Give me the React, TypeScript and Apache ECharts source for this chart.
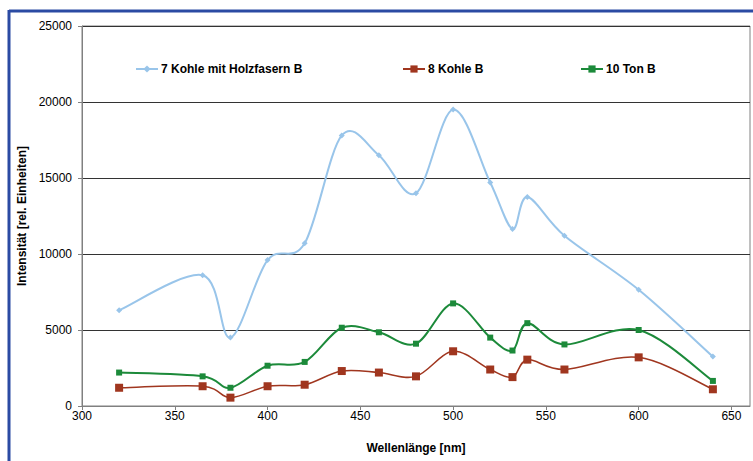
import React, { useEffect, useRef } from "react";
import * as echarts from "echarts";

const wavelengths = [320, 365, 380, 400, 420, 440, 460, 480, 500, 520, 532, 540, 560, 600, 640];
const kohleHolz = [6300, 8600, 4500, 9600, 10700, 17800, 16500, 14000, 19500, 14700, 11650, 13750, 11200, 7650, 3250];
const kohle = [1200, 1300, 550, 1300, 1400, 2300, 2200, 1950, 3600, 2400, 1900, 3050, 2400, 3200, 1100];
const ton = [2200, 1950, 1200, 2650, 2900, 5150, 4850, 4100, 6750, 4500, 3650, 5450, 4050, 5000, 1650];
const xTicks = [300, 350, 400, 450, 500, 550, 600, 650];
const seriesNames = ["7 Kohle mit Holzfasern B", "8 Kohle B", "10 Ton B"];

const FONT = "Liberation Sans, Arial, sans-serif";

export default function App() {
  const ref = useRef<HTMLDivElement>(null);
  useEffect(() => {
    if (!ref.current) return;
    const chart = echarts.init(ref.current, undefined, { renderer: "svg" });
    const pair = (ys: number[]) => wavelengths.map((x, i) => [x, ys[i]]);
    const n = wavelengths.length;

    const curve = (ys: number[], color: string, width: number, z: number) => ({
      type: "custom",
      name: "_curve" + z,
      silent: true,
      clip: true,
      z,
      data: pair(ys),
      renderItem: (params: any, api: any) => {
        const i = params.dataIndex;
        if (i >= n - 1) return null;
        const P = (k: number) => {
          const kk = Math.max(0, Math.min(n - 1, k));
          return api.coord([wavelengths[kk], ys[kk]]);
        };
        const p0 = P(i - 1), p1 = P(i), p2 = P(i + 1), p3 = P(i + 2);
        const t = 1 / 6;
        return {
          type: "bezierCurve",
          shape: {
            x1: p1[0], y1: p1[1], x2: p2[0], y2: p2[1],
            cpx1: p1[0] + (p2[0] - p0[0]) * t,
            cpy1: p1[1] + (p2[1] - p0[1]) * t,
            cpx2: p2[0] - (p3[0] - p1[0]) * t,
            cpy2: p2[1] - (p3[1] - p1[1]) * t,
          },
          style: { stroke: color, lineWidth: width, fill: null },
        };
      },
    });

    const markers = (name: string, ys: number[], color: string, width: number, symbol: string, size: number, z: number) => ({
      name,
      type: "line",
      data: pair(ys),
      symbol,
      symbolSize: size,
      lineStyle: { color, width, opacity: 0 },
      itemStyle: { color },
      z,
    });

    const legendBase = {
      orient: "horizontal" as const,
      top: 63,
      padding: 0,
      itemWidth: 22,
      itemHeight: 9,
      itemGap: 4,
      lineStyle: { opacity: 1 },
      textStyle: { fontFamily: FONT, fontSize: 12, fontWeight: "bold" as const, color: "#000", padding: [0, 0, 0, -2] },
    };
    chart.setOption({
      animation: false,
      backgroundColor: "#fff",
      textStyle: { fontFamily: FONT },
      grid: {
        left: 82,
        top: 26,
        width: 668,
        height: 380,
        show: true,
        borderColor: "#808080",
        borderWidth: 1,
        containLabel: false,
      },
      legend: [
        { ...legendBase, left: 135, data: [seriesNames[0]] },
        { ...legendBase, left: 402, data: [seriesNames[1]] },
        { ...legendBase, left: 580, data: [seriesNames[2]] },
      ],
      graphic: [
        { type: "line", shape: { x1: 9, y1: 11, x2: 753, y2: 11 }, style: { stroke: "#2B4BA3", lineWidth: 3 } },
        { type: "line", shape: { x1: 9, y1: 10, x2: 9, y2: 461 }, style: { stroke: "#2B4BA3", lineWidth: 3 } },
      ],
      xAxis: {
        type: "value",
        min: 300,
        max: 660,
        interval: 50,
        name: "Wellenlänge [nm]",
        nameLocation: "middle",
        nameGap: 36,
        nameTextStyle: { fontFamily: FONT, fontSize: 12, fontWeight: "bold", color: "#000" },
        axisLine: { show: true, lineStyle: { color: "#808080", width: 1 } },
        axisTick: { show: true, length: 4, inside: false, customValues: xTicks, lineStyle: { color: "#808080" } },
        axisLabel: { customValues: xTicks, margin: 4, fontFamily: FONT, fontSize: 12, color: "#000", formatter: (v: number) => String(v) },
        splitLine: { show: false },
      },
      yAxis: {
        type: "value",
        min: 0,
        max: 25000,
        interval: 5000,
        name: "Intensität [rel. Einheiten]",
        nameLocation: "middle",
        nameGap: 48,
        nameTextStyle: { fontFamily: FONT, fontSize: 12, fontWeight: "bold", color: "#000" },
        axisLine: { show: true, lineStyle: { color: "#808080", width: 1 } },
        axisTick: { show: true, length: 4, inside: false, lineStyle: { color: "#808080" } },
        axisLabel: { margin: 10, fontFamily: FONT, fontSize: 12, color: "#000", formatter: (v: number) => String(v) },
        splitLine: { show: true, lineStyle: { color: "#333", width: 1 } },
      },
      series: [
        curve(kohleHolz, "#99C5EA", 2, 2),
        curve(kohle, "#A0361F", 1.5, 3),
        curve(ton, "#1C8A3A", 2, 4),
        markers(seriesNames[0], kohleHolz, "#99C5EA", 2, "diamond", 6, 5),
        markers(seriesNames[1], kohle, "#A0361F", 1.5, "rect", 8, 6),
        markers(seriesNames[2], ton, "#1C8A3A", 2, "rect", 6, 7),
      ],
    });
    return () => chart.dispose();
  }, []);
  return (
    <div
      ref={ref}
      style={{ position: "fixed", left: 0, top: 0, width: 753, height: 461, background: "#fff" }}
    />
  );
}
